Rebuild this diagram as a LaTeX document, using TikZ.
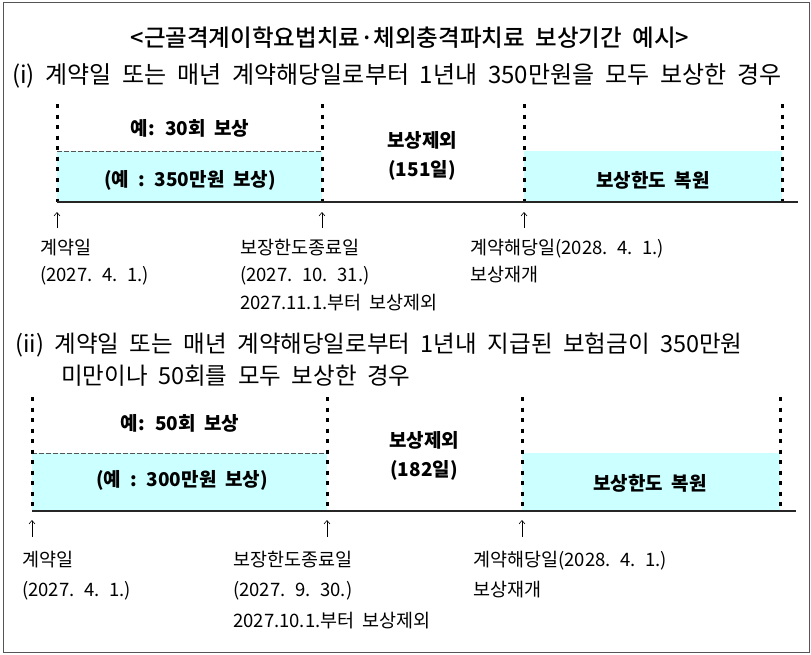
\documentclass[tikz,border=0pt]{standalone}
\usepackage{fontspec}
\setmainfont{Noto Sans CJK KR}[WordSpace=2.0]
\newfontfamily\headfont{Noto Sans CJK KR Medium}[WordSpace=2.0]
\usetikzlibrary{arrows.meta, positioning}
\definecolor{limitcyan}{HTML}{CCFFFF}
\definecolor{framegray}{HTML}{555555}

\tikzset{
  headtxt/.style={inner sep=0pt, font=\fontsize{23.5}{26}\headfont},
  casetxt/.style={anchor=west, inner sep=0pt, font=\fontsize{24}{26}\selectfont},
  boxtxt/.style={inner sep=0pt, font=\fontsize{19}{21}\selectfont\bfseries},
  datetxt/.style={anchor=west, inner sep=0pt, text height=15pt, text depth=2pt,
    font=\fontsize{18.5}{20}\selectfont},
  bound/.style={line width=3pt, dash pattern=on 4pt off 6.5pt},
  split/.style={draw=framegray, line width=1pt, dash pattern=on 4.5pt off 2.5pt},
  axis/.style={draw=black!85, line width=1.2pt},
  upmark/.style={-{Straight Barb[length=3.5pt,width=6pt]}, line width=0.6pt}
}

\begin{document}
\begin{tikzpicture}[x=1pt, y=-1pt]
  \useasboundingbox (0,0) rectangle (811,654);
  \draw[framegray, line width=1pt] (3,2) rectangle (809,652);

  % Heading
  \node[headtxt] (title) at (410,38) {<근골격계이학요법치료·체외충격파치료 보상기간 예시>};
  \node[casetxt] (case1) at (12,76) {(i) 계약일 또는 매년 계약해당일로부터 1년내 350만원을 모두 보상한 경우};

  % Case (i): periods
  \fill[limitcyan] (57,151) rectangle (322,202);
  \fill[limitcyan] (524,151) rectangle (782,202);
  \draw[split] (57,151) -- (322,151);
  \foreach \x in {57,322,524,782}
    \draw[bound] (\x,104) -- (\x,202);
  \draw[axis] (57,202) -- (798,202);

  \node[boxtxt] (cnt1) at (190,128) {예: 30회 보상};
  \node[boxtxt] (amt1) at (190,180) {(예 : 350만원 보상)};
  \node[boxtxt] (off1) at (422,140) {보상제외};
  \node[boxtxt] (days1) at (422,170) {(151일)};
  \node[boxtxt] (back1) at (653,180) {보상한도 복원};

  % Case (i): dates
  \foreach \x/\n in {57/s, 322/e, 524/r} {
    \coordinate (\n1a) at (\x,228);
    \coordinate (\n1b) at (\x,212);
    \draw[upmark] (\n1a) -- (\n1b);
  }
  \node[datetxt] (start1) at (40,248) {계약일};
  \node[datetxt, below right=10pt and 0pt of start1.south west] (start1d) {(2027. 4. 1.)};
  \node[datetxt] (end1) at (240,248) {보장한도종료일};
  \node[datetxt, below right=10pt and 0pt of end1.south west] (end1d) {(2027. 10. 31.)};
  \node[datetxt, below right=10pt and 0pt of end1d.south west] (end1x) {2027.11.1.부터 보상제외};
  \node[datetxt] (renew1) at (470,248) {계약해당일(2028. 4. 1.)};
  \node[datetxt, below right=10pt and 0pt of renew1.south west] (renew1x) {보상재개};

  % Case (ii)
  \node[casetxt, font=\fontsize{23.5}{26}\selectfont] (case2) at (15,345) {(ii) 계약일 또는 매년 계약해당일로부터 1년내 지급된 보험금이 350만원};
  \node[casetxt, font=\fontsize{23.5}{26}\selectfont] (case2b) at (61,376) {미만이나 50회를 모두 보상한 경우};

  \fill[limitcyan] (32,453) rectangle (327,511);
  \fill[limitcyan] (522,453) rectangle (780,511);
  \draw[split] (32,453) -- (327,453);
  \foreach \x in {32,327,522,780}
    \draw[bound] (\x,397) -- (\x,511);
  \draw[axis] (32,511) -- (796,511);

  \node[boxtxt] (cnt2) at (180,423) {예: 50회 보상};
  \node[boxtxt] (amt2) at (182,480) {(예 : 300만원 보상)};
  \node[boxtxt] (off2) at (424,440) {보상제외};
  \node[boxtxt] (days2) at (424,470) {(182일)};
  \node[boxtxt] (back2) at (650,483) {보상한도 복원};

  \foreach \x/\n in {32/s, 327/e, 522/r} {
    \coordinate (\n2a) at (\x,537);
    \coordinate (\n2b) at (\x,520);
    \draw[upmark] (\n2a) -- (\n2b);
  }
  \node[datetxt] (start2) at (22,560) {계약일};
  \node[datetxt, below right=13pt and 0pt of start2.south west] (start2d) {(2027. 4. 1.)};
  \node[datetxt] (end2) at (233,560) {보장한도종료일};
  \node[datetxt, below right=13pt and 0pt of end2.south west] (end2d) {(2027. 9. 30.)};
  \node[datetxt, below right=13pt and 0pt of end2d.south west] (end2x) {2027.10.1.부터 보상제외};
  \node[datetxt] (renew2) at (473,560) {계약해당일(2028. 4. 1.)};
  \node[datetxt, below right=13pt and 0pt of renew2.south west] (renew2x) {보상재개};
\end{tikzpicture}
\end{document}
